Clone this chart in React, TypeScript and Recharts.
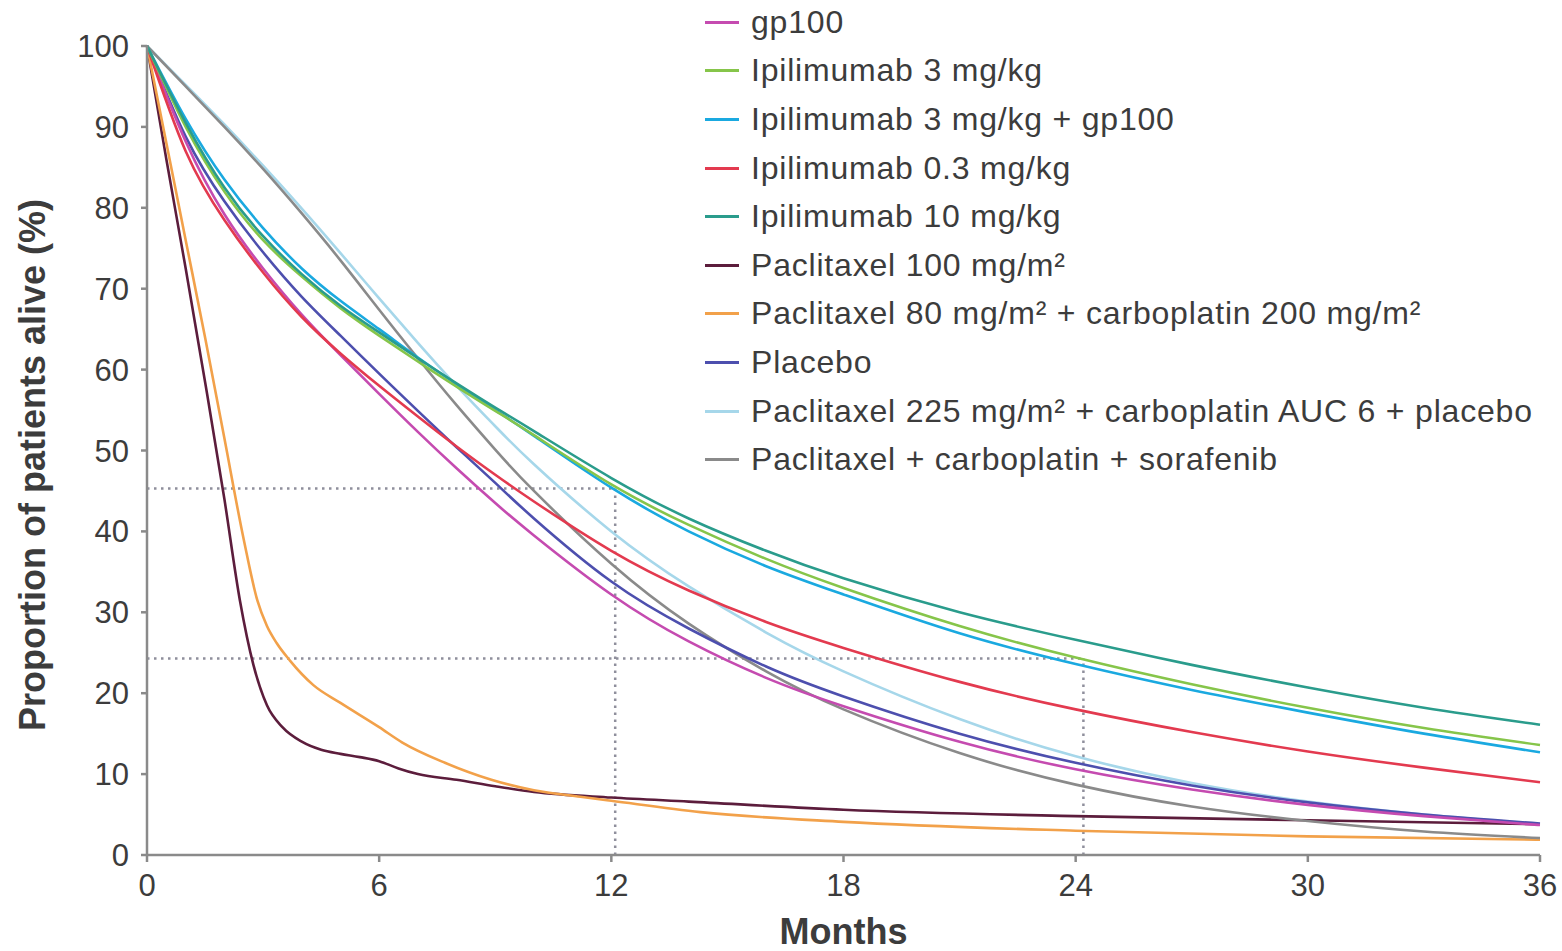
import React from 'react';
import { LineChart, Line, XAxis, YAxis, ReferenceLine, Legend, Label } from 'recharts';

// ---- data ----
const months = [0, 1, 2, 3, 4, 5, 6, 7, 8, 9, 10, 12, 14, 16, 18, 21, 24, 27, 30, 33, 36];
const gp100 = [100, 88.2, 79.2, 72.5, 66.8, 61.8, 57.0, 52.3, 47.8, 43.5, 39.5, 32.2, 26.4, 21.9, 18.4, 14.0, 10.6, 8.1, 6.2, 4.8, 3.7];
const ipi3 = [100, 90, 82, 76, 71.5, 67.6, 64.2, 61.0, 57.9, 54.9, 51.9, 45.8, 40.8, 36.6, 33.0, 28.3, 24.4, 21.1, 18.2, 15.7, 13.6];
const ipi3gp = [100, 91, 83.5, 77.5, 72.5, 68.5, 65, 61.5, 58.2, 55.0, 51.8, 45.4, 40.0, 35.7, 32.2, 27.4, 23.6, 20.4, 17.6, 15.0, 12.7];
const ipi03 = [100, 87, 78.5, 72, 66.5, 62, 58.0, 54.2, 50.5, 47.0, 43.7, 37.6, 32.7, 28.8, 25.6, 21.4, 18.0, 15.2, 12.8, 10.8, 9.0];
const ipi10 = [100, 90.5, 82.5, 76.5, 71.8, 67.9, 64.6, 61.4, 58.3, 55.3, 52.4, 46.6, 41.6, 37.6, 34.2, 30.0, 26.6, 23.5, 20.7, 18.2, 16.1];
const placebo = [100, 88.8, 80.8, 74.5, 69, 64.2, 59.5, 54.9, 50.4, 46.0, 41.6, 33.8, 28.0, 23.3, 19.6, 15.0, 11.4, 8.6, 6.5, 5.0, 3.9];
const pac225 = [100, 95.2, 90.3, 85.2, 79.9, 74.4, 68.8, 63.3, 58.0, 53.0, 48.3, 40.0, 33.2, 27.5, 22.7, 16.8, 12.2, 8.9, 6.6, 5.0, 3.8];
const pacSora = [100, 95.0, 90.0, 84.8, 79.3, 73.5, 67.4, 61.4, 55.6, 50.1, 45.0, 36.0, 28.6, 22.7, 18.0, 12.6, 8.7, 6.0, 4.2, 2.9, 2.1];

const pac100Months = [0, 0.5, 1, 1.5, 2, 2.4, 2.75, 3.1, 3.5, 4, 4.5, 5, 5.5, 6, 6.5, 7, 8, 9, 10, 12, 14, 18, 24, 30, 36];
const pac100 = [100, 86, 72.5, 58.5, 44, 31.5, 23.5, 18.5, 15.8, 14, 13, 12.5, 12.1, 11.6, 10.7, 10, 9.3, 8.5, 7.8, 7.1, 6.6, 5.6, 4.8, 4.3, 3.8];
const pac80Months = [0, 0.5, 1, 1.5, 2, 2.5, 2.85, 3.1, 3.35, 3.7, 4.3, 5, 6, 6.6, 7.7, 8.9, 10, 11.2, 12, 14.3, 18, 24, 30, 36];
const pac80 = [100, 88, 76, 64, 51.5, 39, 31.5, 28.3, 26.2, 24.0, 21.0, 18.8, 15.8, 13.9, 11.4, 9.3, 8.0, 7.2, 6.7, 5.3, 4.1, 3.0, 2.3, 1.9];

const xTicks = [0, 6, 12, 18, 24, 30, 36];
const yTicks = [0, 10, 20, 30, 40, 50, 60, 70, 80, 90, 100];

const ref12 = { x: 12.1, y: 45.3 };
const ref24 = { x: 24.2, y: 24.3 };

const toPts = (xs: number[], ys: number[]) => xs.map((m, i) => ({ m, v: ys[i] }));

const series = [
  { name: 'gp100', color: '#c54bb0', curve: 'natural', data: toPts(months, gp100) },
  { name: 'Ipilimumab 3 mg/kg', color: '#86c54a', curve: 'natural', data: toPts(months, ipi3) },
  { name: 'Ipilimumab 3 mg/kg + gp100', color: '#1aa9e0', curve: 'natural', data: toPts(months, ipi3gp) },
  { name: 'Ipilimumab 0.3 mg/kg', color: '#e33a4f', curve: 'natural', data: toPts(months, ipi03) },
  { name: 'Ipilimumab 10 mg/kg', color: '#2a9c8c', curve: 'natural', data: toPts(months, ipi10) },
  { name: 'Paclitaxel 100 mg/m²', color: '#5c1d3c', curve: 'monotone', data: toPts(pac100Months, pac100) },
  { name: 'Paclitaxel 80 mg/m² + carboplatin 200 mg/m²', color: '#f2a14a', curve: 'monotone', data: toPts(pac80Months, pac80) },
  { name: 'Placebo', color: '#4d4fae', curve: 'natural', data: toPts(months, placebo) },
  { name: 'Paclitaxel 225 mg/m² + carboplatin AUC 6 + placebo', color: '#a6d7ea', curve: 'natural', data: toPts(months, pac225) },
  { name: 'Paclitaxel + carboplatin + sorafenib', color: '#8a8a8a', curve: 'natural', data: toPts(months, pacSora) },
];

const drawOrder = [5, 6, 8, 9, 7, 0, 3, 2, 1, 4];

const FONT = "'Liberation Sans', Arial, Helvetica, sans-serif";
const AXIS = '#8a8a8a';
const TEXT = '#3c3c3c';
const DOT = '#8f8f9c';

const LegendBox = () => (
  <div style={{ fontFamily: FONT, color: TEXT, fontSize: 32, letterSpacing: 0.8 }}>
    {series.map((s) => (
      <div key={s.name} style={{ height: 48.6, display: 'flex', alignItems: 'center', whiteSpace: 'nowrap' }}>
        <span style={{ display: 'inline-block', width: 34, height: 3, background: s.color, marginRight: 12 }} />
        <span>{s.name}</span>
      </div>
    ))}
  </div>
);

export default function App() {
  return (
    <div style={{ position: 'absolute', left: 0, top: 0, background: '#fff' }}>
      <LineChart width={1562} height={951} margin={{ top: 46, right: 22, bottom: 0, left: 0 }}>
        <XAxis
          dataKey="m"
          type="number"
          domain={[0, 36]}
          ticks={xTicks}
          allowDuplicatedCategory={false}
          height={96}
          stroke={AXIS}
          strokeWidth={2.5}
          tickSize={7}
          tickMargin={12}
          tick={{ fontSize: 31, fill: TEXT, fontFamily: FONT }}
        >
          <Label
            value="Months"
            position="insideBottom"
            offset={7}
            style={{ fontSize: 36, fontWeight: 'bold', fill: TEXT, fontFamily: FONT }}
          />
        </XAxis>
        <YAxis
          type="number"
          domain={[0, 100]}
          ticks={yTicks}
          width={147}
          stroke={AXIS}
          strokeWidth={2.5}
          tickSize={6}
          tickMargin={12}
          interval={0}
          tick={{ fontSize: 31, fill: TEXT, fontFamily: FONT }}
        >
          <Label
            content={() => (
              <text
                x={45}
                y={465}
                transform="rotate(-90 45 465)"
                textAnchor="middle"
                style={{ fontSize: 36, fontWeight: 'bold', fill: TEXT, fontFamily: FONT }}
              >
                Proportion of patients alive (%)
              </text>
            )}
          />
        </YAxis>
        <ReferenceLine segment={[{ x: 0, y: ref12.y }, { x: ref12.x, y: ref12.y }]} stroke={DOT} strokeWidth={2.5} strokeDasharray="2.5 4.5" />
        <ReferenceLine segment={[{ x: ref12.x, y: 0 }, { x: ref12.x, y: ref12.y }]} stroke={DOT} strokeWidth={2.5} strokeDasharray="2.5 4.5" />
        <ReferenceLine segment={[{ x: 0, y: ref24.y }, { x: ref24.x, y: ref24.y }]} stroke={DOT} strokeWidth={2.5} strokeDasharray="2.5 4.5" />
        <ReferenceLine segment={[{ x: ref24.x, y: 0 }, { x: ref24.x, y: ref24.y }]} stroke={DOT} strokeWidth={2.5} strokeDasharray="2.5 4.5" />
        {drawOrder.map((i) => {
          const s = series[i];
          return (
            <Line
              key={s.name}
              data={s.data}
              dataKey="v"
              name={s.name}
              type={s.curve as any}
              stroke={s.color}
              strokeWidth={2.6}
              dot={false}
              activeDot={false}
              isAnimationActive={false}
            />
          );
        })}
        <Legend
          layout="vertical"
          align="center"
          verticalAlign="middle"
          content={() => <LegendBox />}
          wrapperStyle={{ position: 'absolute', left: 705, top: -2, width: 850 }}
        />
      </LineChart>
    </div>
  );
}
